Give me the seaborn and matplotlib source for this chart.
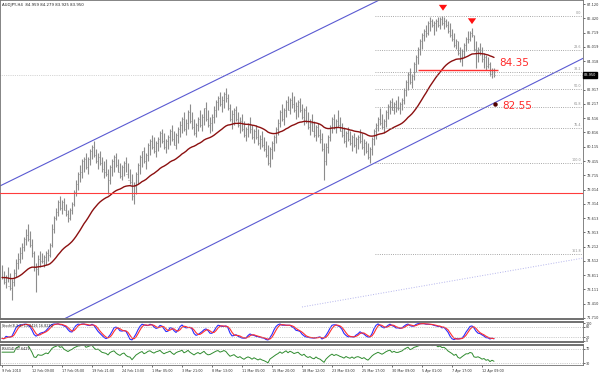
import numpy as np
import pandas as pd
import matplotlib
matplotlib.use("Agg")
import matplotlib.pyplot as plt
import seaborn as sns

sns.set_theme(style="white")
plt.rcParams['font.family'] = ['DejaVu Sans']

# H4 bars, 9 Feb 2010 - 12 Apr 2010
lows = [
    73.6, 73.4, 73.2, 73.5, 73.1, 72.6, 73.3, 73.7, 74.1, 74.4,
    74.6, 75.0, 75.3, 75.5, 75.2, 74.7, 74.0, 73.0, 73.8, 74.2,
    74.4, 74.2, 74.3, 74.5, 74.7, 75.2, 75.9, 76.5, 76.7, 77.0,
    76.8, 77.0, 76.7, 76.4, 76.5, 76.8, 77.2, 77.7, 78.0, 78.4,
    78.6, 78.9, 79.0, 78.8, 79.2, 79.5, 79.6, 79.3, 79.0, 79.2,
    78.9, 78.6, 78.7, 77.8, 78.3, 78.7, 78.9, 79.1, 78.9, 78.6,
    78.5, 78.7, 78.9, 78.6, 78.3, 77.5, 77.3, 77.8, 78.3, 78.8,
    79.1, 79.3, 79.0, 79.4, 79.7, 80.0, 79.8, 79.6, 79.9, 80.1,
    80.3, 80.0, 79.8, 80.0, 80.2, 80.4, 80.2, 80.0, 80.3, 80.6,
    80.8, 80.9, 80.7, 81.0, 81.3, 81.0, 80.7, 80.6, 80.9, 81.1,
    80.9, 81.2, 81.4, 81.1, 80.8, 80.9, 81.3, 81.6, 81.9, 82.1,
    81.8, 82.0, 82.3, 81.9, 81.4, 81.0, 81.2, 81.4, 81.1, 80.8,
    80.9, 80.6, 80.4, 80.6, 80.8, 80.5, 80.3, 80.5, 80.2, 80.0,
    80.1, 79.9, 79.6, 79.2, 79.1, 79.5, 79.9, 80.3, 80.7, 81.1,
    81.4, 81.2, 81.6, 81.9, 81.7, 82.0, 81.8, 81.5, 81.6, 81.8,
    81.5, 81.2, 81.3, 81.0, 80.7, 80.9, 80.6, 80.4, 80.6, 80.3,
    79.9, 78.5, 79.2, 79.8, 80.4, 80.8, 81.0, 80.8, 81.1, 80.9,
    80.6, 80.3, 80.1, 80.4, 80.2, 79.9, 80.1, 79.8, 80.0, 80.3,
    80.0, 79.7, 79.8, 79.5, 79.3, 79.7, 80.2, 80.5, 80.9, 81.2,
    81.0, 80.8, 81.1, 81.5, 81.7, 81.9, 81.7, 81.8, 81.9, 81.7,
    81.9, 82.2, 82.6, 82.9, 83.2, 83.0, 83.4, 83.8, 84.2, 84.6,
    84.9, 85.3, 85.5, 85.6, 85.8, 86.0, 85.6, 85.8, 86.0, 85.9,
    86.1, 85.9, 86.0, 85.7, 85.5, 85.3, 85.0, 84.9, 84.6, 84.3,
    84.1, 84.5, 84.8, 85.2, 85.3, 85.5, 84.8, 84.0, 84.3, 84.6,
    84.3, 84.0, 83.9, 84.0, 83.6, 83.5, 83.55,
]
highs = [
    74.3, 74.0, 73.8, 74.2, 73.9, 73.6, 74.1, 74.6, 74.9, 75.2,
    75.4, 75.7, 76.1, 76.3, 76.0, 75.6, 75.0, 74.4, 74.8, 75.0,
    74.9, 74.8, 75.0, 75.1, 75.4, 76.3, 76.7, 77.1, 77.5, 77.7,
    77.5, 77.6, 77.3, 77.0, 77.1, 77.4, 78.0, 78.5, 78.9, 79.2,
    79.5, 79.6, 79.8, 79.6, 80.0, 80.2, 80.4, 80.0, 79.8, 79.9,
    79.6, 79.4, 79.5, 79.0, 79.2, 79.5, 79.7, 79.8, 79.5, 79.3,
    79.2, 79.4, 79.6, 79.3, 79.0, 78.8, 78.4, 78.9, 79.3, 79.7,
    79.9, 80.1, 79.8, 80.3, 80.5, 80.7, 80.6, 80.4, 80.6, 80.9,
    81.0, 80.8, 80.5, 80.7, 81.0, 81.2, 80.9, 80.8, 81.1, 81.4,
    81.6, 81.8, 81.5, 81.9, 82.2, 81.8, 81.5, 81.3, 81.6, 81.9,
    81.7, 82.0, 82.3, 81.9, 81.6, 81.7, 82.1, 82.4, 82.6, 82.8,
    82.6, 82.8, 83.0, 82.7, 82.2, 81.9, 82.0, 82.1, 81.8, 81.6,
    81.7, 81.4, 81.1, 81.3, 81.6, 81.2, 81.0, 81.2, 81.0, 80.7,
    80.9, 80.6, 80.4, 80.2, 80.1, 80.4, 80.7, 81.1, 81.5, 81.9,
    82.2, 82.0, 82.4, 82.6, 82.5, 82.8, 82.6, 82.3, 82.4, 82.5,
    82.2, 82.0, 82.1, 81.8, 81.5, 81.7, 81.4, 81.2, 81.3, 81.0,
    80.8, 80.3, 80.3, 80.7, 81.2, 81.6, 81.7, 81.5, 81.9, 81.6,
    81.3, 81.1, 80.9, 81.1, 80.9, 80.7, 80.8, 80.6, 80.7, 81.0,
    80.8, 80.5, 80.4, 80.3, 80.1, 80.6, 81.0, 81.3, 81.6, 82.0,
    81.7, 81.5, 81.9, 82.2, 82.4, 82.5, 82.3, 82.4, 82.6, 82.3,
    82.5, 83.0, 83.4, 83.8, 84.0, 83.7, 84.3, 84.6, 85.0, 85.4,
    85.7, 85.9, 86.1, 86.3, 86.5, 86.4, 86.3, 86.4, 86.5, 86.5,
    86.55, 86.5, 86.4, 86.3, 86.2, 85.9, 85.7, 85.4, 85.3, 85.0,
    84.9, 85.2, 85.5, 85.8, 85.8, 85.95, 85.6, 85.3, 85.0, 85.2,
    85.0, 84.7, 84.6, 84.5, 84.3, 84.0, 84.0,
]
closes = [
    73.7, 73.5, 73.7, 73.3, 73.2, 73.5, 73.9, 74.4, 74.6, 74.9,
    75.2, 75.6, 75.8, 75.6, 75.3, 74.9, 74.2, 74.1, 74.6, 74.5,
    74.5, 74.7, 74.9, 74.8, 75.3, 76.1, 76.6, 76.9, 77.4, 77.1,
    77.4, 77.0, 76.8, 76.6, 77.0, 77.3, 77.9, 78.3, 78.8, 78.9,
    79.4, 79.5, 79.1, 79.5, 79.9, 80.1, 79.7, 79.4, 79.6, 79.3,
    79.0, 78.9, 78.8, 78.5, 79.1, 79.4, 79.6, 79.2, 78.9, 78.7,
    79.1, 79.3, 78.8, 78.5, 78.4, 77.7, 78.2, 78.8, 79.2, 79.6,
    79.9, 79.4, 79.7, 80.2, 80.4, 80.1, 79.9, 80.3, 80.5, 80.8,
    80.4, 80.1, 80.4, 80.6, 80.9, 80.5, 80.2, 80.7, 81.0, 81.2,
    81.5, 81.0, 81.3, 81.8, 81.4, 81.1, 80.8, 81.2, 81.5, 81.2,
    81.6, 82.0, 81.5, 81.2, 81.3, 81.6, 81.9, 82.3, 82.5, 82.2,
    82.4, 82.7, 82.5, 82.0, 81.5, 81.7, 81.9, 81.5, 81.2, 81.4,
    81.0, 80.7, 81.0, 81.2, 81.0, 80.6, 80.9, 80.6, 80.3, 80.5,
    80.2, 80.0, 79.7, 79.3, 80.0, 80.3, 80.6, 81.0, 81.3, 81.8,
    81.5, 81.9, 82.3, 81.9, 82.4, 82.2, 81.9, 82.1, 82.3, 81.9,
    81.6, 81.9, 81.4, 81.1, 81.3, 80.9, 80.7, 81.1, 80.7, 80.5,
    80.0, 79.4, 80.1, 80.6, 81.1, 81.5, 81.1, 81.4, 81.2, 80.9,
    80.7, 80.4, 80.8, 80.5, 80.3, 80.6, 80.2, 80.5, 80.6, 80.4,
    80.1, 80.3, 79.9, 79.6, 80.0, 80.5, 80.9, 81.2, 81.5, 81.3,
    81.1, 81.4, 81.8, 82.1, 82.3, 81.9, 82.2, 82.0, 82.0, 82.2,
    82.4, 82.9, 83.3, 83.7, 83.3, 83.6, 84.2, 84.5, 84.9, 85.3,
    85.6, 85.8, 85.7, 86.2, 86.3, 86.1, 86.2, 86.3, 86.1, 86.4,
    86.2, 86.3, 86.1, 85.8, 85.6, 85.4, 85.1, 85.3, 84.7, 84.5,
    84.8, 85.1, 85.4, 85.4, 85.7, 85.6, 84.9, 84.8, 84.9, 84.7,
    84.4, 84.5, 84.1, 84.2, 83.7, 83.9, 83.64,
]
bid_text = "83.950"
title = "AUDJPY,H4  84.959 84.279 83.925 83.950"

date_labels = ["9 Feb 2010", "12 Feb 09:00", "17 Feb 05:00", "19 Feb 21:00", "24 Feb 13:00",
               "1 Mar 05:00", "3 Mar 21:00", "8 Mar 13:00", "11 Mar 05:00", "15 Mar 20:00",
               "18 Mar 12:00", "23 Mar 03:00", "25 Mar 17:00", "30 Mar 09:00", "5 Apr 01:00",
               "7 Apr 17:00", "12 Apr 09:00"]
price_ticks = list(np.round(np.linspace(71.71, 87.12, 23), 3))

fib_high, fib_low = 86.55, 79.32
fib_levels = [0.0, 23.6, 38.2, 50.0, 61.8, 76.4, 100.0, 161.8]
channel_up = [(0, 78.24), (150, 85.46)]
channel_dn = [(29, 71.56), (276, 83.74)]
faint_line = [(150, 72.25), (290.5, 74.65)]
support_line = 77.85
neck_price, neck_label = 83.86, "84.35"
target_bar, target_price, target_label = 246.5, 82.21, "82.55"
peaks = [(220.5, 86.66), (235, 86.0)]

df = pd.DataFrame({"low": lows, "high": highs, "close": closes})
df["bar"] = np.arange(len(df))
bid = df["close"].iloc[-1]
df["ma"] = df["close"].ewm(span=40, adjust=False).mean()

# Stochastic(8,3,3)
ll = df["low"].rolling(8, min_periods=1).min()
hh = df["high"].rolling(8, min_periods=1).max()
num = (df["close"] - ll).rolling(3, min_periods=1).sum()
den = (hh - ll).rolling(3, min_periods=1).sum()
df["stoch"] = 100 * num / den
df["signal"] = df["stoch"].rolling(3, min_periods=1).mean()
# RSI(14), Wilder smoothing
d = df["close"].diff()
up = d.clip(lower=0).ewm(alpha=1 / 14, adjust=True, min_periods=6).mean()
dn = (-d.clip(upper=0)).ewm(alpha=1 / 14, adjust=True, min_periods=6).mean()
df["rsi"] = 100 - 100 / (1 + up / dn)
df["rsi"] = df["rsi"].bfill()

W, H = 600, 376
fig = plt.figure(figsize=(6, 3.76), dpi=100)


def box(x0, y0, x1, y1):
    return [x0 / W, 1 - y1 / H, (x1 - x0) / W, (y1 - y0) / H]


ax = fig.add_axes(box(0, 0, 583, 319))
ax_st = fig.add_axes(box(0, 322, 583, 342), sharex=ax)
ax_rsi = fig.add_axes(box(0, 345, 583, 365), sharex=ax)

# price bars: high-low line with close tick
ax.vlines(df["bar"], df["low"], df["high"], color="#8c8c8c", lw=0.8)
ax.hlines(df["close"], df["bar"], df["bar"] + 0.5, color="#8c8c8c", lw=0.6)
sns.lineplot(data=df, x="bar", y="ma", ax=ax, color="#8b1010", lw=1.0)

ax.axhline(support_line, color="#ff3c3c", lw=0.8, zorder=5)
ax.axhline(bid, color="#b0b0b0", lw=0.5, ls=":")
ax.axline(*channel_up, color="#5a5ad2", lw=0.8)
ax.axline(*channel_dn, color="#5a5ad2", lw=0.8)
ax.plot(*zip(*faint_line), color="#b4b4ec", lw=0.7, ls=":")

rng = fib_high - fib_low
for lv in fib_levels:
    p = fib_high - rng * lv / 100
    ax.hlines(p, 186.5, 290.5, color="#8c8c8c", lw=0.6, ls=":")
    ax.text(289.8, p + 0.05, f"{lv:.1f}", fontsize=2.4, color="#909090", ha="right", va="bottom")

ax.hlines(neck_price, 208, 248, color="#ff3030", lw=1.0)
ax.text(248.5, 84.22, neck_label, fontsize=7.5, color="#ff2a2a", ha="left", va="center")
ax.plot([target_bar], [target_price], "o", ms=2.2, color="#500000")
ax.text(250, 82.12, target_label, fontsize=7.5, color="#ff2a2a", ha="left", va="center")
for xb, pb in peaks:
    ax.annotate("", xy=(xb, pb), xytext=(xb, pb + 0.38),
                arrowprops=dict(arrowstyle="simple,head_width=0.5,head_length=0.35,tail_width=0.2",
                                color="#ff1010", lw=0))

ax.set_xlim(-1, 290.5)
ax.set_ylim(71.66, 87.32)
ax.set_xlabel("")
ax.set_ylabel("")
ax.yaxis.tick_right()
# the bid box hides the label it sits on
shown = [v for v in price_ticks if abs(v - bid) > 0.35]
ax.set_yticks(shown)
ax.set_yticklabels([f"{v:.3f}" for v in shown])
ax.tick_params(axis="y", labelsize=2.5, length=1.5, width=0.5, pad=1, colors="#303030", right=True)
ax.tick_params(axis="x", bottom=False, labelbottom=False)
ax.text(0.004, 0.985, title, transform=ax.transAxes, fontsize=2.8, color="#202020", va="center")

# stochastic
sns.lineplot(data=df, x="bar", y="stoch", ax=ax_st, color="#2b2bff", lw=0.8)
sns.lineplot(data=df, x="bar", y="signal", ax=ax_st, color="#ff3030", lw=0.8)
for lv in (80, 20):
    ax_st.axhline(lv, color="#a0a0a0", lw=0.5, ls=":")
ax_st.set_ylim(-5.6, 105.6)
ax_st.yaxis.tick_right()
ax_st.set_yticks([100, 80, 20, 0])
ax_st.tick_params(axis="y", labelsize=2.4, length=1.2, width=0.5, pad=1, colors="#303030", right=True)
ax_st.tick_params(axis="x", bottom=False, labelbottom=False)
ax_st.set_xlabel("")
ax_st.set_ylabel("")
ax_st.text(0.004, 0.78, "Stoch(8,3,3) 11.0426 16.8220", transform=ax_st.transAxes,
           fontsize=2.4, color="#202020", va="center")

# RSI
sns.lineplot(data=df, x="bar", y="rsi", ax=ax_rsi, color="#2e8b2e", lw=0.7)
for lv in (70, 30):
    ax_rsi.axhline(lv, color="#a0a0a0", lw=0.5, ls=":")
ax_rsi.set_ylim(25, 80)
ax_rsi.yaxis.tick_right()
ax_rsi.set_yticks([70, 30])
ax_rsi.tick_params(axis="y", labelsize=2.4, length=1.2, width=0.5, pad=1, colors="#303030", right=True)
ax_rsi.set_xlabel("")
ax_rsi.set_ylabel("")
ax_rsi.text(0.004, 0.78, "RSI(14) 37.6429", transform=ax_rsi.transAxes,
            fontsize=2.4, color="#202020", va="center")
ax_rsi.set_xticks(np.arange(0, 15 * len(date_labels), 15))
ax_rsi.set_xticklabels(date_labels, ha="left")
ax_rsi.tick_params(axis="x", labelsize=2.4, length=1.5, width=0.5, pad=1.5, colors="#303030", bottom=True)

for a in (ax, ax_st, ax_rsi):
    for s in a.spines.values():
        s.set_color("#707070")
        s.set_linewidth(0.6)
ax.spines["bottom"].set_linewidth(1.4)
ax_st.spines["top"].set_linewidth(1.4)
ax_st.spines["bottom"].set_linewidth(1.4)
ax_rsi.spines["top"].set_linewidth(1.4)

fig.text(584 / W, 1 - 75 / H, bid_text, fontsize=2.5, color="white", ha="left", va="center",
         bbox=dict(boxstyle="square,pad=0.2", fc="black", ec="black"))

fig.savefig("out.png", dpi=100, facecolor="white")
